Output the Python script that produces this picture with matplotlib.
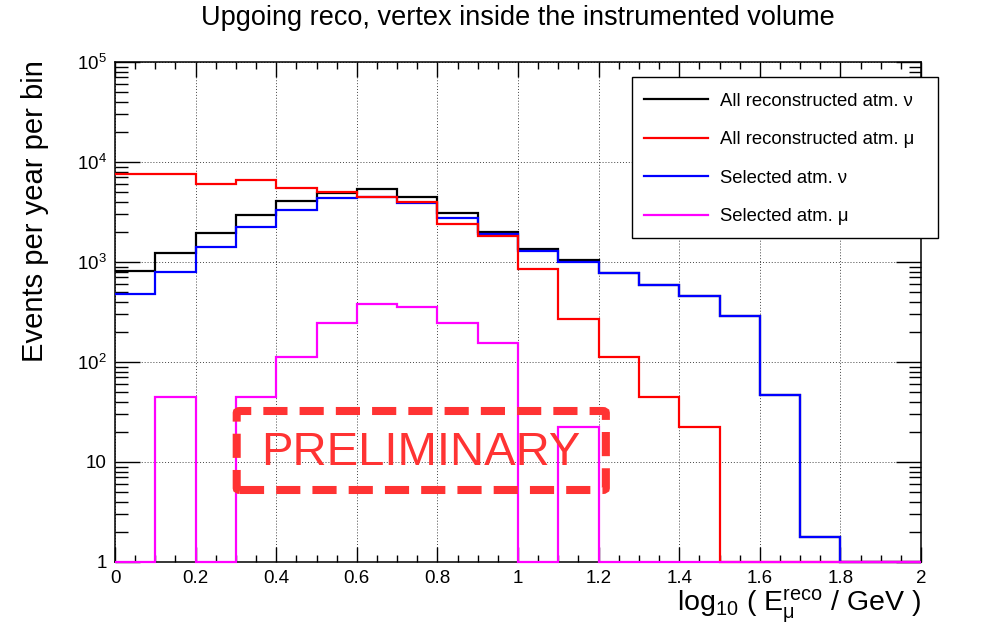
import numpy as np
import matplotlib
matplotlib.use('Agg')
import matplotlib.pyplot as plt
from matplotlib.lines import Line2D
from matplotlib.patches import FancyBboxPatch, Rectangle
from matplotlib.ticker import MultipleLocator, FuncFormatter, LogLocator

plt.rcParams['font.family'] = ['Liberation Sans', 'DejaVu Sans']
plt.rcParams['mathtext.fontset'] = 'custom'
plt.rcParams['mathtext.rm'] = 'Liberation Sans'
plt.rcParams['mathtext.it'] = 'Liberation Sans'
plt.rcParams['mathtext.bf'] = 'Liberation Sans:bold'

# bin edges: log10(E/GeV), 0.1 wide
edges = np.round(np.arange(0, 2.01, 0.1), 2)

# events per year per bin
all_nu = [818, 1240, 1950, 2950, 4100, 4930, 5410, 4500, 3070, 1995,
          1340, 1040, 782, 589, 454, 291, 46.8, 1.78, 0, 0]
all_mu = [7590, 7590, 6030, 6660, 5450, 4970, 4500, 3980, 2420, 1834,
          851, 267, 112, 45, 22.4, 0, 0, 0, 0, 0]
sel_nu = [479, 800, 1403, 2256, 3336, 4400, 4480, 3860, 2735, 1900,
          1300, 1010, 782, 589, 454, 291, 46.8, 1.78, 0, 0]
sel_mu = [0, 45, 0, 45, 111, 245, 380, 357, 245, 156,
          0, 22.4, 0, 0, 0, 0, 0, 0, 0, 0]

labels = ['All reconstructed atm. ν', 'All reconstructed atm. μ',
          'Selected atm. ν', 'Selected atm. μ']
colors = ['black', '#ff0000', '#0000ff', '#ff00ff']

fig = plt.figure(figsize=(9.96, 6.36), dpi=100)
ax = fig.add_axes([115 / 996, 1 - 562 / 636, 806 / 996, 500 / 636])

ymin = 1
series = [all_nu, sel_nu, all_mu, sel_mu]
series_col = [colors[0], colors[2], colors[1], colors[3]]
for vals, c in zip(series, series_col):
    v = np.clip(np.array(vals, dtype=float), ymin, None)
    ax.stairs(v, edges, baseline=None, color=c, lw=1.6, clip_on=False, zorder=3)

ax.set_yscale('log')
ax.set_xlim(0, 2)
ax.set_ylim(1, 1e5)

def ylab(v, pos):
    if v < 1.5:
        return '1'
    if v < 15:
        return '10'
    return r'$10^{%d}$' % round(np.log10(v))

ax.xaxis.set_major_locator(MultipleLocator(0.2))
ax.xaxis.set_minor_locator(MultipleLocator(0.05))
ax.xaxis.set_major_formatter(FuncFormatter(lambda v, p: '%g' % round(v, 1)))
ax.yaxis.set_major_locator(LogLocator(base=10, numticks=10))
ax.yaxis.set_minor_locator(LogLocator(base=10, subs=np.arange(2, 10), numticks=10))
ax.yaxis.set_major_formatter(FuncFormatter(ylab))

ax.tick_params(which='both', direction='in', top=True, right=True, width=1.0)
ax.tick_params(axis='x', which='major', length=11, labelsize=13.5, pad=6)
ax.tick_params(axis='x', which='minor', length=5)
ax.tick_params(axis='y', which='major', length=18, labelsize=13.5, pad=6)
ax.tick_params(axis='y', which='minor', length=9)
for s in ax.spines.values():
    s.set_linewidth(1.1)

ax.grid(True, which='major', ls=(0, (1, 2)), color='#444444', lw=0.7)

fig.text(0.52, 1 - 18 / 636, 'Upgoing reco, vertex inside the instrumented volume',
         ha='center', va='center', fontsize=19.5)
fig.text(35 / 996, 1 - 60 / 636, 'Events per year per bin', rotation=90,
         ha='center', va='top', fontsize=21)
fig.text(921 / 996, 1 - 606 / 636,
         r'log$_{10}$ ( E$_{\mathrm{μ}}^{\mathrm{reco}}$ / GeV )',
         ha='right', va='center', fontsize=20.5)

# legend box (ROOT style, sticks out past the frame)
frame = Rectangle((632 / 996, 1 - 238 / 636), 306 / 996, 161 / 636, transform=fig.transFigure,
                  fc='white', ec='black', lw=1.0, zorder=5)
fig.add_artist(frame)
handles = [Line2D([], [], color=c, lw=1.6) for c in colors]
leg = fig.legend(handles, labels, loc='upper left',
                 bbox_to_anchor=(638 / 996, 1 - 87 / 636), bbox_transform=fig.transFigure,
                 borderaxespad=0, fontsize=13.3, frameon=False,
                 handlelength=3.5, handletextpad=0.65,
                 labelspacing=1.17, borderpad=0.3)
leg.set_zorder(6)

# preliminary stamp
red = '#ff3333'
box = FancyBboxPatch((0.151, 0.144), 0.458, 0.158, boxstyle='round,pad=0,rounding_size=0.004',
                     transform=ax.transAxes, fill=False, ec=red, lw=5.8,
                     ls=(0, (3.0, 1.5)), zorder=4, clip_on=False)
ax.add_patch(box)
ax.text(0.38, 0.218, 'PRELIMINARY', transform=ax.transAxes, ha='center', va='center',
        fontsize=34, color=red, zorder=4)

fig.savefig('out.png', dpi=100)
